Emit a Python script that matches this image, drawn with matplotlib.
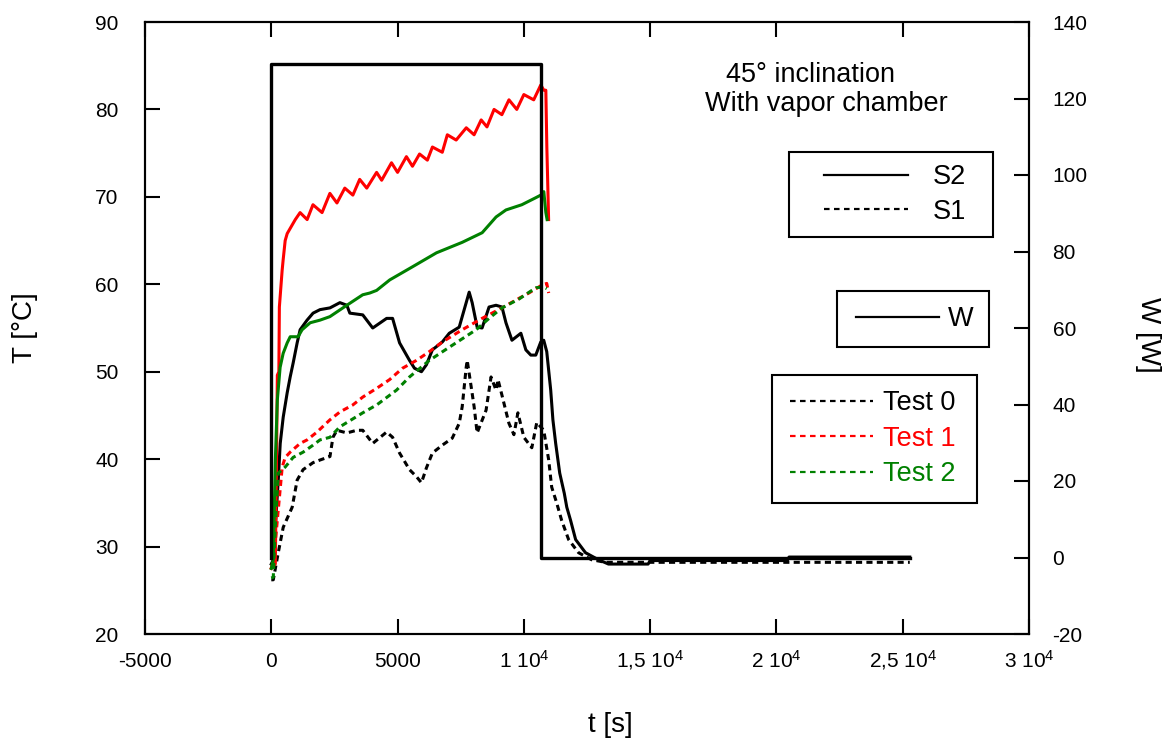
import matplotlib
matplotlib.use("Agg")
import matplotlib.pyplot as plt
from matplotlib.lines import Line2D
from matplotlib.legend_handler import HandlerLine2D

plt.rcParams['font.family'] = ['Liberation Sans', 'DejaVu Sans']
plt.rcParams['mathtext.fontset'] = 'custom'
plt.rcParams['mathtext.rm'] = 'Liberation Sans'
plt.rcParams['mathtext.it'] = 'Liberation Sans:italic'
plt.rcParams['mathtext.bf'] = 'Liberation Sans:bold'
plt.rcParams['axes.unicode_minus'] = False

# Test 0 - S2 (black solid)
t0_s2 = [0, 80, 276, 354, 472, 630, 748, 866, 1024, 1142, 1417, 1654, 1929, 2323, 2717,
         2992, 3110, 3622, 4016, 4567, 4803, 5079, 5472, 5669, 5945, 6142, 6378, 6772,
         7047, 7441, 7559, 7717, 7835, 7953, 8150, 8346, 8622, 8898, 9134, 9291, 9528,
         9882, 10079, 10276, 10472, 10669, 10787, 10906, 11063, 11150, 11260, 11420,
         11600, 11700, 11850, 12050, 12440, 12950, 13350, 14920, 15000, 20430, 20500, 25280]
T0_s2 = [28.0, 28.5, 37.6, 41.8, 44.8, 47.6, 49.4, 51.0, 53.3, 54.8, 55.9, 56.7, 57.1, 57.3, 57.9,
         57.6, 56.7, 56.5, 55.0, 56.1, 56.1, 53.3, 51.3, 50.4, 50.0, 50.8, 52.5, 53.4,
         54.4, 55.1, 56.3, 57.9, 59.1, 57.9, 55.1, 55.0, 57.4, 57.6, 57.4, 55.6, 53.6,
         54.4, 52.5, 51.9, 51.9, 53.4, 53.6, 52.3, 47.9, 44.5, 41.8, 38.4,
         36.1, 34.5, 33.0, 30.8, 29.3, 28.5, 28.0, 28.0, 28.4, 28.4, 28.8, 28.8]

# Test 0 - S1 (black dashed)
t0_s1 = [0, 79, 276, 472, 827, 1024, 1260, 1654, 1929, 2323, 2441, 2598, 2992, 3386, 3622,
         4016, 4567, 4803, 5079, 5472, 5748, 5945, 6142, 6378, 6772, 7165, 7441, 7559,
         7717, 7756, 7913, 8031, 8150, 8504, 8701, 8898, 8976, 9134, 9409, 9606, 9764,
         10000, 10315, 10512, 10787, 10984, 11102, 11299, 11496, 11772, 12165, 12677,
         13228, 14900, 25280]
T0_s1 = [26.2, 26.2, 29.3, 32.2, 34.5, 37.6, 38.8, 39.6, 39.9, 40.3, 42.5, 43.3, 43.0, 43.3, 43.3,
         41.8, 43.1, 42.5, 40.7, 38.8, 38.0, 37.3, 39.0, 40.7, 41.6, 42.4, 44.1, 46.0,
         50.5, 51.3, 48.3, 46.0, 43.0, 45.6, 49.4, 47.9, 49.1, 47.3, 44.1, 42.8, 45.3,
         42.5, 41.3, 44.2, 43.3, 39.9, 36.8, 35.0, 33.0, 30.8, 29.3, 28.5,
         28.2, 28.2, 28.2]

# Test 1 - S2 (red solid)
t1_s2 = [0, 160, 200, 240, 300, 320, 430, 470, 550, 630, 950, 1140, 1420, 1650, 2010, 2320,
         2600, 2910, 3230, 3500, 3780, 4170, 4370, 4760, 5000, 5350, 5590, 5870, 6180,
         6380, 6770, 6970, 7320, 7720, 8030, 8310, 8540, 8820, 9130, 9410, 9720, 10000,
         10390, 10670, 10790, 10870, 10910, 10950, 10980]
T1_s2 = [27.5, 28.0, 38.0, 49.6, 50.0, 57.4, 61.6, 62.8, 65.0, 65.8, 67.4, 68.2, 67.4, 69.1, 68.2, 70.4,
         69.3, 71.0, 70.2, 72.0, 71.0, 72.8, 71.9, 73.9, 72.8, 74.6, 73.5, 74.9, 74.2,
         75.7, 75.1, 77.1, 76.5, 77.9, 77.1, 78.8, 78.0, 80.0, 79.4, 81.1, 80.0, 81.7,
         81.1, 82.8, 82.2, 82.2, 75.7, 71.0, 67.4]

# Test 1 - S1 (red dashed)
t1_s1 = [0, 80, 157, 276, 433, 551, 748, 1142, 1417, 1811, 2323, 2717, 3228, 3622, 4173,
         4685, 5197, 5748, 6260, 6772, 7559, 8346, 9134, 9685, 10197, 10709, 10906, 10984]
T1_s1 = [27.5, 28.5, 30.4, 34.2, 39.1, 40.2, 40.8, 41.8, 42.2, 43.1, 44.5, 45.4, 46.2, 47.1, 48.1,
         49.1, 50.4, 51.3, 52.3, 53.4, 54.8, 56.1, 57.3, 58.2, 59.0, 59.9, 60.1, 59.0]

# Test 2 - S2 (green solid)
t2_s2 = [0, 80, 160, 240, 350, 470, 630, 750, 1060, 1220, 1540, 1930, 2320, 2990, 3620,
         3900, 4170, 4690, 5590, 6540, 7560, 8350, 8900, 9290, 9920, 10470, 10670, 10790,
         10870, 10920]
T2_s2 = [27.5, 28.5, 39.9, 46.8, 50.5, 52.1, 53.3, 54.0, 54.0, 54.8, 55.6, 55.9, 56.3, 57.6, 58.8,
         59.0, 59.3, 60.5, 62.0, 63.6, 64.8, 65.9, 67.7, 68.5, 69.1, 69.9, 70.2, 70.6,
         68.2, 67.4]

# Test 2 - S1 (green dashed)
t2_s1 = [0, 79, 157, 276, 551, 866, 1260, 1654, 1929, 2323, 2717, 3622, 4173, 4961, 5472,
         6260, 7047, 8110, 8622, 9134, 9800, 10472, 10787, 10906]
T2_s1 = [26.4, 26.5, 32.2, 38.4, 39.1, 40.2, 40.8, 41.6, 42.2, 42.5, 43.7, 45.3, 46.2, 47.9, 49.4,
         51.3, 52.8, 54.8, 56.1, 57.3, 58.3, 59.6, 59.7, 59.5]

# heating power
t_w = [0, 0, 10670, 10670, 25280]
w = [0, 129, 129, 0, 0]

xticks = [-5000, 0, 5000, 10000, 15000, 20000, 25000, 30000]
xlabels = ['-5000', '0', '5000', r'1 10$^{4}$', r'1,5 10$^{4}$', r'2 10$^{4}$',
           r'2,5 10$^{4}$', r'3 10$^{4}$']
yticks_T = [20, 30, 40, 50, 60, 70, 80, 90]
yticks_W = [-20, 0, 20, 40, 60, 80, 100, 120, 140]

red = '#ff0000'
green = '#008000'
dash = (0, (2.0, 1.4))

fig = plt.figure(figsize=(11.69, 7.40), dpi=100)
ax1 = fig.add_axes([145/1169, 106/740, 884/1169, 612/740])
ax2 = ax1.twinx()

lw = 2.2
ax1.plot(t0_s2, T0_s2, color='black', lw=lw)
ax1.plot(t0_s1, T0_s1, color='black', lw=lw, ls=dash)
ax1.plot(t1_s2, T1_s2, color=red, lw=lw)
ax1.plot(t1_s1, T1_s1, color=red, lw=lw, ls=dash)
ax1.plot(t2_s2, T2_s2, color=green, lw=lw)
ax1.plot(t2_s1, T2_s1, color=green, lw=lw, ls=dash)
ax2.plot(t_w, w, color='black', lw=2.4)

ax1.set_xlim(-5000, 30000)
ax1.set_ylim(20, 90)
ax2.set_ylim(-20, 140)
ax1.set_xticks(xticks)
ax1.set_xticklabels(xlabels)
ax1.set_yticks(yticks_T)
ax2.set_yticks(yticks_W)
ax2.set_yticklabels([str(v) for v in yticks_W])

for a in (ax1, ax2):
    for s in a.spines.values():
        s.set_linewidth(1.5)
ax1.tick_params(axis='both', direction='in', length=11, width=1.5, labelsize=15,
                top=True, right=False, left=True)
ax1.tick_params(axis='x', pad=24)
ax1.tick_params(axis='y', pad=19)
ax2.tick_params(axis='y', direction='in', length=11, width=1.5, labelsize=15, pad=17)
plt.setp(ax1.get_xticklabels(), va='baseline')

ax1.set_xlabel('t [s]', fontsize=20)
ax1.xaxis.set_label_coords((610 - 145) / 884, (634 - 712) / 612)
ax1.set_ylabel('T [°C]', fontsize=20)
ax1.yaxis.set_label_coords((38 - 145) / 884, 0.5)
ax2.set_ylabel('W [W]', fontsize=20, rotation=270, va='bottom')
ax2.yaxis.set_label_coords((1135 - 145) / 884, (634 - 335) / 612)

ax1.text((811 - 145) / 884, (634 - 82) / 612, '45° inclination', fontsize=19.5,
         ha='center', va='baseline', transform=ax1.transAxes)
ax1.text((826 - 145) / 884, (634 - 111) / 612, 'With vapor chamber', fontsize=19.5,
         ha='center', va='baseline', transform=ax1.transAxes)


def box_legend(handles, labels, x0, x1, y0, bpad, lspace, hlen, xpad, tpad):
    fs = 19.5
    leg = ax2.legend(handles, labels, loc='upper left', mode='expand',
                     bbox_to_anchor=(x0 / 1169, 1 - y0 / 740, (x1 - x0) / 1169, 0.0),
                     bbox_transform=fig.transFigure, borderaxespad=0, fontsize=fs,
                     fancybox=False, framealpha=1, edgecolor='black',
                     borderpad=bpad, labelspacing=lspace, handlelength=hlen,
                     handletextpad=tpad, labelcolor='linecolor',
                     handler_map={Line2D: HandlerLine2D(xpad=xpad)})
    leg.get_frame().set_linewidth(1.5)
    return leg


hl = 1.6
hdash = (0, (2.5, 2.0))
leg1 = box_legend([Line2D([], [], color='black', lw=hl),
                   Line2D([], [], color='black', lw=hl, ls=hdash)],
                  ['S2', 'S1'], 789, 993, 152, 0.45, 0.31, 3.95, 0.85, 0.92)
ax2.add_artist(leg1)
leg2 = box_legend([Line2D([], [], color='black', lw=hl)], ['W'],
                  837, 989, 291, 0.56, 0.3, 3.2, 0.14, 0.33)
ax2.add_artist(leg2)
leg3 = box_legend([Line2D([], [], color='black', lw=hl, ls=hdash),
                   Line2D([], [], color=red, lw=hl, ls=hdash),
                   Line2D([], [], color=green, lw=hl, ls=hdash)],
                  ['Test 0', 'Test 1', 'Test 2'], 772, 977, 375, 0.57, 0.35, 3.16, 0.1, 0.37)

fig.savefig('out.png', dpi=100)
